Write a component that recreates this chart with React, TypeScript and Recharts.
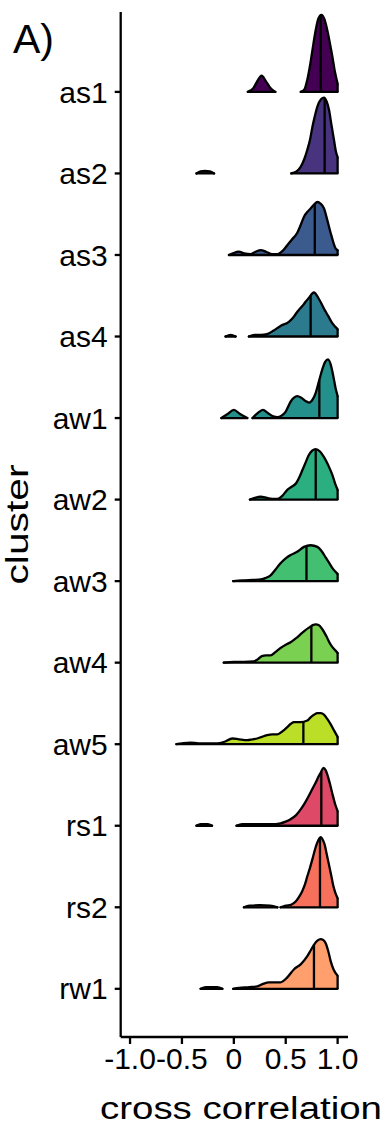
import React from 'react';
import {
  ComposedChart,
  Area,
  XAxis,
  YAxis,
  ReferenceLine,
  Label,
} from 'recharts';

// cluster names, top to bottom
const clusters = ['as1', 'as2', 'as3', 'as4', 'aw1', 'aw2', 'aw3', 'aw4', 'aw5', 'rs1', 'rs2', 'rw1'];

const colors = [
  '#440154', '#47337e', '#3b5a8d', '#2c7a8e', '#24908c', '#2bae80',
  '#43bf71', '#7ad151', '#bbdf27', '#de4968', '#f7705c', '#fe9f6d',
];

// median of each cluster and the ridge height at that median
const medians = [0.837, 0.875, 0.78, 0.74, 0.824, 0.789, 0.7, 0.747, 0.67, 0.843, 0.83, 0.772];
const medianTops = [0.93, 0.92, 0.62, 0.5, 0.47, 0.62, 0.43, 0.45, 0.28, 0.66, 0.85, 0.54];

const xTicks = [-1, -0.5, 0, 0.5, 1];

// density ridges: [cross correlation, height in row units]; null height = gap
type Pt = [number, number | null];

const as1Density: Pt[] = [
  [0.135, 0], [0.19, 0.05], [0.23, 0.14], [0.267, 0.2], [0.31, 0.13], [0.35, 0.05], [0.4, 0],
  [0.5, null],
  [0.645, 0], [0.68, 0.03], [0.708, 0.15], [0.735, 0.33], [0.757, 0.51], [0.789, 0.76],
  [0.815, 0.9], [0.844, 0.945], [0.87, 0.9], [0.9, 0.76], [0.925, 0.6], [0.95, 0.43],
  [0.975, 0.24], [1.0, 0.1],
];
const as2Density: Pt[] = [
  [-0.36, 0], [-0.32, 0.025], [-0.28, 0.03], [-0.23, 0.025], [-0.19, 0],
  [0.2, null],
  [0.554, 0], [0.6, 0.02], [0.644, 0.08], [0.68, 0.18], [0.708, 0.29], [0.735, 0.42],
  [0.757, 0.57], [0.78, 0.7], [0.805, 0.82], [0.84, 0.91], [0.869, 0.93], [0.895, 0.88],
  [0.917, 0.78], [0.94, 0.6], [0.965, 0.41], [0.985, 0.26], [1.0, 0.2],
];
const as3Density: Pt[] = [
  [-0.047, 0], [-0.01, 0.02], [0.048, 0.04], [0.1, 0.02], [0.16, 0.01], [0.21, 0.04],
  [0.26, 0.06], [0.31, 0.04], [0.37, 0.01], [0.42, 0.01], [0.47, 0.05], [0.515, 0.12],
  [0.56, 0.19], [0.61, 0.27], [0.645, 0.37], [0.676, 0.47], [0.71, 0.53], [0.74, 0.57],
  [0.775, 0.62], [0.805, 0.65], [0.835, 0.63], [0.869, 0.57], [0.9, 0.43], [0.933, 0.27],
  [0.96, 0.15], [0.98, 0.08], [1.0, 0.06],
];
const as4Density: Pt[] = [
  [-0.08, 0], [-0.03, 0.02], [0.017, 0],
  [0.08, null],
  [0.145, 0], [0.2, 0.02], [0.26, 0.02], [0.32, 0.03], [0.38, 0.07], [0.45, 0.13],
  [0.53, 0.18], [0.57, 0.23], [0.61, 0.3], [0.676, 0.4], [0.72, 0.47], [0.772, 0.54],
  [0.82, 0.46], [0.869, 0.34], [0.91, 0.25], [0.95, 0.16], [1.0, 0.09],
];
const aw1Density: Pt[] = [
  [-0.12, 0], [-0.06, 0.05], [0.0, 0.1], [0.06, 0.05], [0.13, 0],
  [0.155, null],
  [0.18, 0], [0.23, 0.06], [0.28, 0.1], [0.33, 0.06], [0.38, 0.02], [0.42, 0.01],
  [0.46, 0.03], [0.5, 0.08], [0.547, 0.2], [0.58, 0.25], [0.61, 0.27], [0.65, 0.25],
  [0.69, 0.21], [0.724, 0.19], [0.76, 0.23], [0.789, 0.31], [0.82, 0.45], [0.853, 0.6],
  [0.88, 0.69], [0.908, 0.72], [0.935, 0.65], [0.959, 0.51], [0.98, 0.37], [1.0, 0.27],
];
const aw2Density: Pt[] = [
  [0.155, 0], [0.2, 0.02], [0.26, 0.035], [0.32, 0.02], [0.37, 0.01], [0.42, 0.01],
  [0.47, 0.05], [0.515, 0.12], [0.56, 0.16], [0.6, 0.2], [0.63, 0.27], [0.66, 0.36],
  [0.69, 0.45], [0.72, 0.54], [0.755, 0.6], [0.789, 0.62], [0.83, 0.59], [0.869, 0.52],
  [0.91, 0.42], [0.95, 0.3], [0.975, 0.2], [1.0, 0.12],
];
const aw3Density: Pt[] = [
  [-0.006, 0], [0.08, 0.01], [0.18, 0.015], [0.26, 0.02], [0.31, 0.04], [0.354, 0.07],
  [0.4, 0.14], [0.45, 0.22], [0.5, 0.28], [0.547, 0.32], [0.61, 0.36], [0.676, 0.42],
  [0.74, 0.44], [0.805, 0.42], [0.85, 0.36], [0.885, 0.29], [0.92, 0.22], [0.95, 0.16],
  [0.975, 0.12], [1.0, 0.09],
];
const aw4Density: Pt[] = [
  [-0.097, 0], [0.0, 0.01], [0.1, 0.01], [0.19, 0.015], [0.23, 0.04], [0.27, 0.08],
  [0.31, 0.09], [0.354, 0.09], [0.4, 0.13], [0.45, 0.18], [0.5, 0.22], [0.547, 0.25],
  [0.6, 0.3], [0.644, 0.35], [0.69, 0.4], [0.724, 0.43], [0.76, 0.46], [0.789, 0.47],
  [0.82, 0.46], [0.853, 0.41], [0.893, 0.32], [0.933, 0.22], [0.97, 0.16], [1.0, 0.12],
];
const aw5Density: Pt[] = [
  [-0.553, 0], [-0.5, 0.01], [-0.42, 0.02], [-0.34, 0.01], [-0.25, 0.01], [-0.16, 0.01],
  [-0.09, 0.03], [-0.015, 0.07], [0.05, 0.06], [0.13, 0.05], [0.18, 0.06], [0.226, 0.07],
  [0.27, 0.09], [0.32, 0.11], [0.37, 0.12], [0.42, 0.12], [0.47, 0.16], [0.515, 0.21],
  [0.55, 0.25], [0.58, 0.27], [0.644, 0.27], [0.708, 0.29], [0.74, 0.33], [0.772, 0.36],
  [0.805, 0.38], [0.837, 0.38], [0.87, 0.36], [0.9, 0.31], [0.935, 0.24], [0.965, 0.17],
  [1.0, 0.09],
];
const rs1Density: Pt[] = [
  [-0.36, 0], [-0.32, 0.02], [-0.25, 0.02], [-0.21, 0],
  [-0.1, null],
  [0.026, 0], [0.08, 0.02], [0.2, 0.02], [0.3, 0.02], [0.4, 0.02], [0.45, 0.03],
  [0.5, 0.05], [0.547, 0.08], [0.6, 0.13], [0.644, 0.2], [0.685, 0.28], [0.724, 0.37],
  [0.76, 0.46], [0.789, 0.53], [0.815, 0.6], [0.837, 0.65], [0.863, 0.71], [0.885, 0.68],
  [0.9, 0.63], [0.925, 0.52], [0.95, 0.39], [0.975, 0.27], [1.0, 0.18],
];
const rs2Density: Pt[] = [
  [0.097, 0], [0.15, 0.02], [0.25, 0.025], [0.35, 0.02], [0.42, 0],
  [0.435, null],
  [0.45, 0], [0.5, 0.02], [0.55, 0.03], [0.596, 0.07], [0.63, 0.13], [0.66, 0.2],
  [0.685, 0.28], [0.708, 0.38], [0.735, 0.49], [0.757, 0.59], [0.78, 0.7], [0.8, 0.78],
  [0.837, 0.86], [0.86, 0.82], [0.875, 0.77], [0.895, 0.65], [0.917, 0.52], [0.94, 0.38],
  [0.959, 0.26], [0.98, 0.17], [1.0, 0.11],
];
const rw1Density: Pt[] = [
  [-0.32, 0], [-0.27, 0.02], [-0.16, 0.02], [-0.11, 0],
  [-0.05, null],
  [-0.006, 0], [0.05, 0.01], [0.15, 0.02], [0.226, 0.03], [0.28, 0.06], [0.34, 0.08],
  [0.4, 0.08], [0.45, 0.08], [0.515, 0.14], [0.58, 0.24], [0.644, 0.3], [0.708, 0.4],
  [0.74, 0.47], [0.772, 0.54], [0.805, 0.59], [0.837, 0.61], [0.86, 0.6], [0.885, 0.56],
  [0.91, 0.46], [0.933, 0.34], [0.96, 0.24], [1.0, 0.16],
];

const densities = [
  as1Density, as2Density, as3Density, as4Density, aw1Density, aw2Density,
  aw3Density, aw4Density, aw5Density, rs1Density, rs2Density, rw1Density,
];

const FONT = '"Liberation Sans", Arial, Helvetica, sans-serif';
const INK = '#000';
const LW = 2.3;

const n = clusters.length;
const basePos = (i: number) => n - i; // as1 at top

const ridgeData = (pts: Pt[], base: number) =>
  pts.map(([x, h]) => ({ x, y: h == null ? null : [base, base + h] }));

const App: React.FC = () => {
  return (
    <div style={{ position: 'absolute', left: 0, top: 0, fontFamily: FONT }}>
      <ComposedChart
        width={385}
        height={1129}
        margin={{ top: 12, right: 37, bottom: 32, left: 20 }}
      >
        <XAxis
          type="number"
          dataKey="x"
          domain={[-1.09, 1.1]}
          allowDataOverflow
          ticks={xTicks}
          interval={0}
          tickFormatter={(v: number) => (v === 0 ? '0' : v.toFixed(1))}
          height={60}
          axisLine={{ stroke: INK, strokeWidth: LW }}
          tickLine={{ stroke: INK, strokeWidth: LW }}
          tickSize={7}
          tickMargin={4}
          tick={{ fill: INK, fontSize: 30, fontFamily: FONT }}
        >
          <Label
            content={(props: any) => {
              const vb = props.viewBox;
              return (
                <text
                  x={241}
                  y={vb.y + 82}
                  textAnchor="middle"
                  fontSize={31}
                  fontFamily={FONT}
                  fill={INK}
                  textLength={282}
                  lengthAdjust="spacingAndGlyphs"
                >
                  cross correlation
                </text>
              );
            }}
          />
        </XAxis>
        <YAxis
          type="number"
          domain={[0.409, 12.98]}
          allowDataOverflow
          ticks={clusters.map((_, i) => basePos(i))}
          interval={0}
          tickFormatter={(v: number) => clusters[n - v]}
          width={100.7}
          axisLine={{ stroke: INK, strokeWidth: LW }}
          tickLine={{ stroke: INK, strokeWidth: LW }}
          tickSize={6}
          tickMargin={7}
          tick={{ fill: INK, fontSize: 30, fontFamily: FONT }}
        >
          <Label
            content={(props: any) => {
              const vb = props.viewBox;
              const cx = 28;
              const cy = vb.y + vb.height / 2;
              return (
                <text
                  x={cx}
                  y={cy}
                  transform={`rotate(-90 ${cx} ${cy})`}
                  textAnchor="middle"
                  fontSize={31}
                  fontFamily={FONT}
                  fill={INK}
                  textLength={120}
                  lengthAdjust="spacingAndGlyphs"
                >
                  cluster
                </text>
              );
            }}
          />
        </YAxis>

        {densities.map((pts, i) => (
          <Area
            key={clusters[i]}
            data={ridgeData(pts, basePos(i))}
            dataKey="y"
            type="monotone"
            fill={colors[i]}
            fillOpacity={1}
            stroke={INK}
            strokeWidth={LW}
            strokeLinejoin="round"
            strokeLinecap="round"
            isAnimationActive={false}
            dot={false}
            activeDot={false}
          />
        ))}

        {densities.map((pts, i) => {
          const last = pts[pts.length - 1];
          const b = basePos(i);
          return (
            <ReferenceLine
              key={`edge-${clusters[i]}`}
              segment={[{ x: last[0], y: b }, { x: last[0], y: b + (last[1] ?? 0) }]}
              stroke={INK}
              strokeWidth={LW}
              ifOverflow="visible"
            />
          );
        })}

        {medians.map((m, i) => (
          <ReferenceLine
            key={`med-${clusters[i]}`}
            segment={[{ x: m, y: basePos(i) }, { x: m, y: basePos(i) + medianTops[i] }]}
            stroke={INK}
            strokeWidth={LW}
            ifOverflow="visible"
          />
        ))}

        <text x={13} y={53} fontSize={41} fontFamily={FONT} fill={INK}>
          A)
        </text>
      </ComposedChart>
    </div>
  );
};

export default App;
